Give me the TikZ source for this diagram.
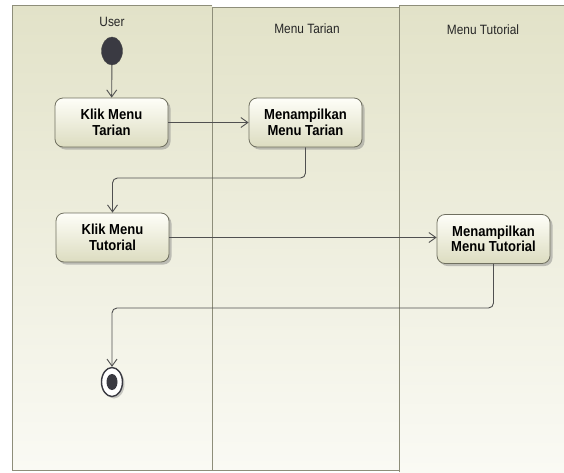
\documentclass[tikz,border=0pt]{standalone}
\usepackage{fontspec}
\setmainfont{Liberation Sans}
\newfontfamily\lanefont[FakeStretch=0.88]{Liberation Sans}
\newfontfamily\actfont[FakeStretch=0.9]{Liberation Sans}
\usetikzlibrary{arrows.meta,shadows,shapes.geometric}

\definecolor{lanetop}{HTML}{E2E2C8}
\definecolor{lanebot}{HTML}{FAFAF4}
\definecolor{laneedge}{HTML}{8E8E7A}
\definecolor{boxtop}{HTML}{FEFEF8}
\definecolor{boxbot}{HTML}{DCDCC0}
\definecolor{boxedge}{HTML}{707060}
\definecolor{flowcol}{HTML}{505050}
\definecolor{dotcol}{HTML}{3A3A42}

\tikzset{
  lanetitle/.style={font=\lanefont\fontsize{13.5}{15}\selectfont, text=black!85, inner sep=0pt},
  action/.style={rectangle, rounded corners=8pt, draw=boxedge, line width=0.8pt,
    top color=boxtop, bottom color=boxbot, minimum width=113pt, minimum height=49pt,
    align=center, inner sep=2pt,
    font=\actfont\bfseries\fontsize{14.5}{15.5}\selectfont,
    drop shadow={shadow xshift=2.5pt, shadow yshift=-2.5pt, fill=black!50, opacity=0.45}},
  startnode/.style={ellipse, fill=dotcol, draw=black!70, minimum width=21pt, minimum height=28pt, inner sep=0pt},
  endring/.style={ellipse, fill=white, draw=dotcol, line width=1.4pt, minimum width=21pt, minimum height=29pt, inner sep=0pt,
    drop shadow={shadow xshift=2pt, shadow yshift=-2pt, fill=black!50, opacity=0.4}},
  enddot/.style={ellipse, fill=dotcol, minimum width=11pt, minimum height=16pt, inner sep=0pt},
  flow/.style={draw=flowcol, line width=0.9pt, rounded corners=5pt,
    -{Straight Barb[length=7pt, width=10pt, line width=0.9pt]}}
}

\begin{document}
\begin{tikzpicture}[x=1pt, y=-1pt]
\useasboundingbox (0,0) rectangle (564,472);
\fill[white] (0,0) rectangle (564,472);

% swimlanes
\shade[top color=lanetop, bottom color=lanebot] (12,5) rectangle (212,470);
\shade[top color=lanetop, bottom color=lanebot] (212,7) rectangle (399,470);
\shade[top color=lanetop, bottom color=lanebot] (399,5) rectangle (564,472);
\draw[laneedge, line width=1pt] (212,470) -- (12,470) -- (12,5) -- (212,5);
\draw[laneedge, line width=1pt] (212,470) rectangle (399,7);
\draw[laneedge, line width=1pt] (399,472) -- (399,5) -- (564,5);

% lane titles
\node[lanetitle] (tUser) at (112,22) {User};
\node[lanetitle] (tTarian) at (307,29) {Menu Tarian};
\node[lanetitle] (tTutorial) at (483,30) {Menu Tutorial};

% activities
\node[startnode] (start) at (112,51) {};
\node[action] (klikTarian) at (111.5,122.5) {Klik Menu\\Tarian};
\node[action] (showTarian) at (305.5,122.5) {Menampilkan\\Menu Tarian};
\node[action] (klikTutorial) at (112.5,237.5) {Klik Menu\\Tutorial};
\node[action] (showTutorial) at (493.5,239) {Menampilkan\\Menu Tutorial};
\node[endring] (finish) at (112,382) {};
\node[enddot] (finishDot) at (112,382) {};

% control flows
\draw[flow] (start) -- (klikTarian);
\draw[flow] (klikTarian.east) -- (showTarian.west);
\draw[flow] (showTarian.south) -- (showTarian.south |- 0,178) -| (klikTutorial.north);
\draw[flow] (klikTutorial.east) -- (klikTutorial.east -| showTutorial.west);
\draw[flow] (showTutorial.south) -- (showTutorial.south |- 0,308) -| (finish.north);
\end{tikzpicture}
\end{document}
